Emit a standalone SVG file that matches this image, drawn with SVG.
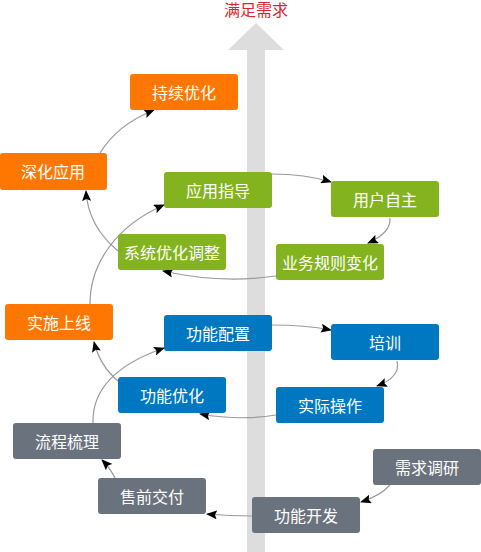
<svg xmlns="http://www.w3.org/2000/svg" width="481" height="552" viewBox="0 0 481 552">
<style>
.n text{font-family:"Noto Sans CJK SC","Liberation Sans",sans-serif;font-size:16px;fill:#fff;text-anchor:middle}
.o rect{fill:#ff7700}
.g rect{fill:#84b320}
.b rect{fill:#0078c1}
.y rect{fill:#6a727e}
#connectors path{fill:none;stroke:#9a9a9a;stroke-width:1.2;marker-end:url(#ah)}
</style>
<defs>
<marker id="ah" markerWidth="11" markerHeight="9" refX="10" refY="4.5" orient="auto" markerUnits="userSpaceOnUse">
<path d="M0,0 L11,4.5 L0,9 L2,4.5 Z" fill="#000"/>
</marker>
</defs>
<rect width="481" height="552" fill="#fff"/>
<g id="axis">
<polygon points="247,552 247,50 228,50 256,23 284,50 265,50 265,552" fill="#dddddd"/>
<text x="256" y="15.5" font-family="Liberation Sans,Noto Sans CJK SC,sans-serif" font-size="16" fill="#d9262c" text-anchor="middle">满足需求</text>
</g>
<g id="connectors">
<path d="M390,485 Q380,496 361,502"/>
<path d="M252,516 Q230,516 207,514"/>
<path d="M115,478 Q110,468 102,460"/>
<path d="M93,423 C92,390 115,365 164,348"/>
<path d="M272,325 Q305,325 331,330"/>
<path d="M397,361 Q401,377 377,386"/>
<path d="M276,415 Q240,421 200,414"/>
<path d="M118,381 Q100,366 94,342"/>
<path d="M90,304 C90,262 118,225 164,205"/>
<path d="M272,174 Q305,174 331,182"/>
<path d="M390,218 Q391,233 368,243"/>
<path d="M276,276 Q220,284 163,271"/>
<path d="M118,251 Q88,226 86,191"/>
<path d="M100,153 Q117,125 154,110"/>
</g>
<g id="n1" class="n o"><rect x="130" y="74" width="108" height="36" rx="3"/><text x="184" y="99">持续优化</text></g>
<g id="n2" class="n o"><rect x="0" y="153" width="107" height="37" rx="3"/><text x="53" y="178">深化应用</text></g>
<g id="n3" class="n g"><rect x="164" y="172" width="108" height="36" rx="3"/><text x="218" y="197">应用指导</text></g>
<g id="n4" class="n g"><rect x="331" y="181" width="108" height="36" rx="3"/><text x="385" y="206">用户自主</text></g>
<g id="n5" class="n g"><rect x="118" y="234" width="108" height="36" rx="3"/><text x="172" y="259">系统优化调整</text></g>
<g id="n6" class="n g"><rect x="276" y="244" width="108" height="36" rx="3"/><text x="330" y="269">业务规则变化</text></g>
<g id="n7" class="n o"><rect x="5" y="304" width="108" height="36" rx="3"/><text x="59" y="329">实施上线</text></g>
<g id="n8" class="n b"><rect x="164" y="315" width="108" height="36" rx="3"/><text x="218" y="340">功能配置</text></g>
<g id="n9" class="n b"><rect x="331" y="324" width="108" height="36" rx="3"/><text x="385" y="349">培训</text></g>
<g id="n10" class="n b"><rect x="118" y="377" width="108" height="36" rx="3"/><text x="172" y="402">功能优化</text></g>
<g id="n11" class="n b"><rect x="276" y="387" width="108" height="36" rx="3"/><text x="330" y="412">实际操作</text></g>
<g id="n12" class="n y"><rect x="13" y="423" width="108" height="36" rx="3"/><text x="67" y="448">流程梳理</text></g>
<g id="n13" class="n y"><rect x="373" y="449" width="108" height="36" rx="3"/><text x="427" y="474">需求调研</text></g>
<g id="n14" class="n y"><rect x="98" y="478" width="108" height="36" rx="3"/><text x="152" y="503">售前交付</text></g>
<g id="n15" class="n y"><rect x="252" y="497" width="108" height="36" rx="3"/><text x="306" y="522">功能开发</text></g>
</svg>
